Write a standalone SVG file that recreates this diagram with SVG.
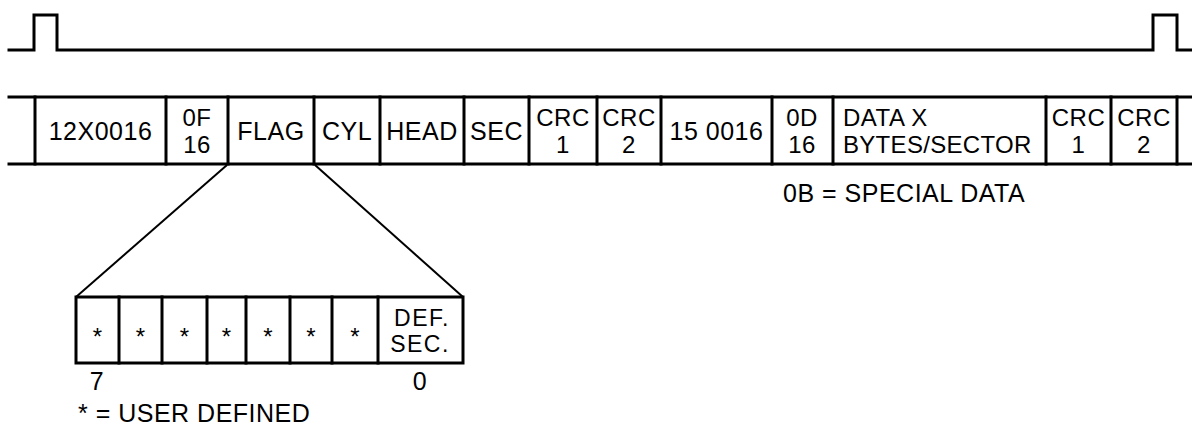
<svg xmlns="http://www.w3.org/2000/svg" width="1192" height="427" viewBox="0 0 1192 427">
<style>
.ln{fill:none;stroke:#000;stroke-width:3;stroke-linecap:square}
.th{fill:none;stroke:#000;stroke-width:2}
text{font-family:"Liberation Sans",Arial,sans-serif;font-size:25px;letter-spacing:0.5px;fill:#000}
.c{text-anchor:middle}
.t{font-size:24px}
.s{font-size:23px;letter-spacing:1.5px}
.a{font-size:24px;letter-spacing:0}
</style>
<rect width="1192" height="427" fill="#fff"/>
<g id="waveform">
<path class="ln" d="M9,50 H34 V15 H57 V50 H1153 V15 H1177 V50 H1192"/>
</g>
<g id="frame">
<line class="ln" x1="9" y1="97" x2="1192" y2="97"/>
<line class="ln" x1="9" y1="164" x2="1192" y2="164"/>
<path class="ln" d="M35,97V164 M166,97V164 M228,97V164 M314,97V164 M380,97V164 M464,97V164 M529,97V164 M597,97V164 M661,97V164 M772,97V164 M833,97V164 M1046,97V164 M1111,97V164 M1177,97V164"/>
</g>
<g id="field-gap1"><text class="c" x="100.5" y="140">12X0016</text></g>
<g id="field-0F"><text class="c t" x="197" y="126">0F</text><text class="c t" x="197" y="153">16</text></g>
<g id="field-flag"><text class="c" x="271" y="140">FLAG</text></g>
<g id="field-cyl"><text class="c" x="347" y="140">CYL</text></g>
<g id="field-head"><text class="c" x="422" y="140">HEAD</text></g>
<g id="field-sec"><text class="c" x="496.5" y="140">SEC</text></g>
<g id="field-crc1a"><text class="c t" x="563" y="126">CRC</text><text class="c t" x="563" y="153">1</text></g>
<g id="field-crc2a"><text class="c t" x="629" y="126">CRC</text><text class="c t" x="629" y="153">2</text></g>
<g id="field-gap2"><text class="c" x="716.5" y="140">15 0016</text></g>
<g id="field-0D"><text class="c t" x="802" y="126">0D</text><text class="c t" x="802" y="153">16</text></g>
<g id="field-data"><text class="t" x="843" y="126">DATA X</text><text class="t" x="843" y="153" style="letter-spacing:0.3px">BYTES/SECTOR</text></g>
<g id="field-crc1b"><text class="c t" x="1078.5" y="126">CRC</text><text class="c t" x="1078.5" y="153">1</text></g>
<g id="field-crc2b"><text class="c t" x="1144" y="126">CRC</text><text class="c t" x="1144" y="153">2</text></g>
<g id="note-0B"><text x="783" y="202">0B = SPECIAL DATA</text></g>
<g id="connectors">
<line class="th" x1="227" y1="165" x2="76" y2="297"/>
<line class="th" x1="315" y1="165" x2="463" y2="297"/>
</g>
<g id="flag-byte">
<rect class="ln" x="76" y="297" width="387" height="66"/>
<path class="ln" d="M119,297V363 M162,297V363 M207,297V363 M246,297V363 M290,297V363 M332,297V363 M378,297V363"/>
<text class="c a" x="97.5" y="345">*</text>
<text class="c a" x="140.5" y="345">*</text>
<text class="c a" x="184.5" y="345">*</text>
<text class="c a" x="226.5" y="345">*</text>
<text class="c a" x="268" y="345">*</text>
<text class="c a" x="311" y="345">*</text>
<text class="c a" x="355" y="345">*</text>
<text class="c s" x="422" y="326">DEF.</text>
<text class="c s" x="420" y="352">SEC.</text>
<text class="c" x="97" y="390">7</text>
<text class="c" x="420" y="390">0</text>
</g>
<g id="note-user"><text x="78" y="422">* = USER DEFINED</text></g>
</svg>
